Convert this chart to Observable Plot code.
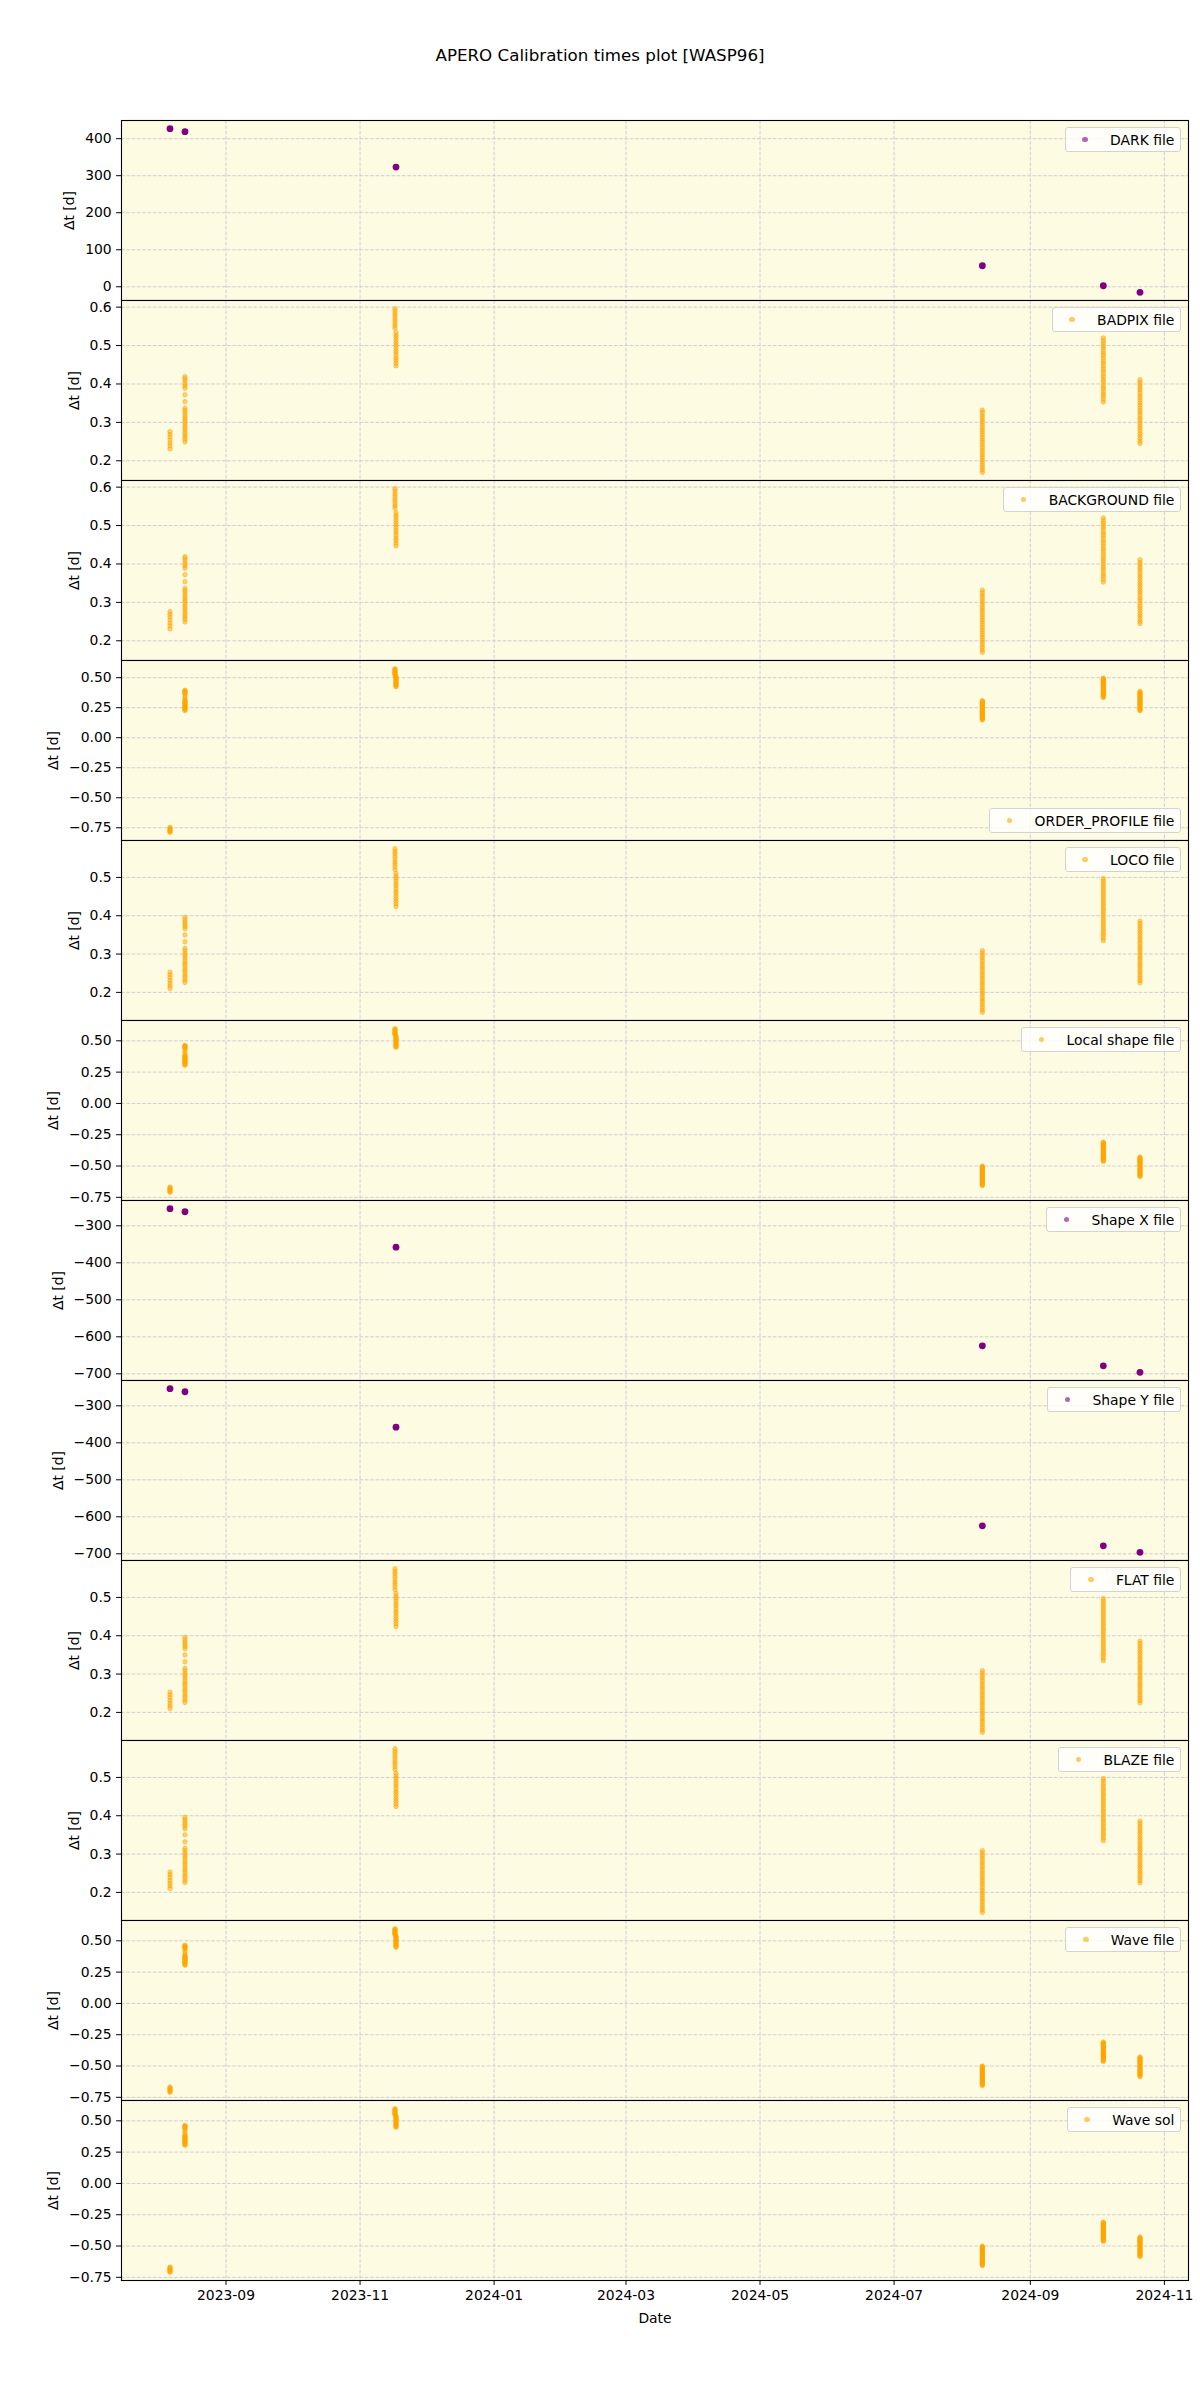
<!DOCTYPE html>
<html>
<head>
<meta charset="utf-8">
<script src="https://cdn.jsdelivr.net/npm/d3@7"></script>
<script src="https://cdn.jsdelivr.net/npm/@observablehq/plot@0.6"></script>
<style>
  body { margin: 0; background: #fff; font-family: "DejaVu Sans", sans-serif; }
  #title { position: relative; width: 1200px; height: 119px; }
  #title span { position: absolute; left: 0; width: 1200px; top: 45px; text-align: center; font-size: 16.7px; line-height: 20px; color: #000; }
  .panel { position: relative; width: 1200px; margin-top: -1px; }
  .panel.first { margin-top: 0; }
  .panel svg { display: block; background: transparent; }
  .legend { position: absolute; right: 19px; background: rgba(255,255,255,0.8); border: 1px solid #d3d3d3; border-radius: 3px;
            display: flex; align-items: center; padding: 3.5px 5.6px; font-size: 13.9px; line-height: 16px; color: #000; white-space: nowrap; }
  .legend .h { width: 27.8px; display: flex; justify-content: center; margin-right: 11.1px; }
  .legend .m { width: 5.6px; height: 5.6px; border-radius: 50%; }
</style>
</head>
<body>
<div id="title"><span>APERO Calibration times plot [WASP96]</span></div>
<div id="panels"></div>
<script>
// ---------------- data ----------------
const nightKeys  = ["A", "B", "C1", "C2", "D", "E", "F"];
const nightDates = ["2023-08-06T12:30Z", "2023-08-13T08:00Z", "2023-11-16T21:30Z", "2023-11-17T08:30Z",
                    "2024-08-10T04:00Z", "2024-10-04T05:00Z", "2024-10-20T21:30Z"];

// one value per night (nights A, B, C2, D, E, F)
const singleNights = ["A", "B", "C2", "D", "E", "F"];
const darkDt   = [427.0, 418.9, 323.4, 56.8, 2.7, -15.0];
const shapeXDt = [-253.7, -262.0, -357.8, -624.3, -678.4, -696.0];
const shapeYDt = [-253.7, -262.0, -357.8, -624.3, -678.4, -696.0];

// many values per night (order of nightKeys)
const badpixDt = [
  [0.276, 0.269, 0.262, 0.254, 0.246, 0.239, 0.231],
  [0.419, 0.414, 0.408, 0.401, 0.395, 0.389, 0.372, 0.354, 0.337, 0.331, 0.325, 0.318, 0.312, 0.306, 0.300, 0.293, 0.287, 0.281, 0.274, 0.268, 0.262, 0.256, 0.249],
  [0.596, 0.590, 0.583, 0.577, 0.570, 0.564, 0.557, 0.551, 0.545],
  [0.534, 0.527, 0.521, 0.514, 0.507, 0.501, 0.494, 0.487, 0.481, 0.474, 0.467, 0.461, 0.454, 0.447],
  [0.332, 0.326, 0.319, 0.313, 0.306, 0.300, 0.293, 0.287, 0.280, 0.274, 0.267, 0.261, 0.254, 0.248, 0.241, 0.235, 0.228, 0.222, 0.215, 0.209, 0.202, 0.196, 0.189, 0.183, 0.176, 0.170],
  [0.520, 0.513, 0.507, 0.500, 0.494, 0.487, 0.480, 0.474, 0.467, 0.460, 0.454, 0.447, 0.440, 0.434, 0.427, 0.420, 0.413, 0.407, 0.400, 0.393, 0.387, 0.380, 0.373, 0.367, 0.360, 0.353],
  [0.411, 0.404, 0.398, 0.391, 0.385, 0.378, 0.371, 0.365, 0.358, 0.351, 0.345, 0.338, 0.331, 0.325, 0.318, 0.311, 0.305, 0.298, 0.291, 0.285, 0.278, 0.271, 0.265, 0.258, 0.251, 0.245]
];
const backgroundDt = badpixDt;

const locoDt = [
  [0.253, 0.246, 0.239, 0.231, 0.224, 0.217, 0.210],
  [0.396, 0.390, 0.384, 0.378, 0.372, 0.366, 0.350, 0.332, 0.315, 0.309, 0.302, 0.296, 0.290, 0.283, 0.277, 0.271, 0.264, 0.258, 0.252, 0.245, 0.239, 0.232, 0.226],
  [0.575, 0.568, 0.562, 0.555, 0.548, 0.541, 0.535, 0.528, 0.521],
  [0.511, 0.504, 0.498, 0.491, 0.484, 0.478, 0.471, 0.464, 0.458, 0.451, 0.444, 0.438, 0.431, 0.424],
  [0.309, 0.303, 0.296, 0.290, 0.283, 0.277, 0.270, 0.264, 0.257, 0.251, 0.244, 0.238, 0.231, 0.225, 0.219, 0.212, 0.206, 0.199, 0.193, 0.186, 0.180, 0.174, 0.167, 0.161, 0.154, 0.148],
  [0.497, 0.491, 0.484, 0.478, 0.471, 0.465, 0.458, 0.452, 0.445, 0.439, 0.432, 0.426, 0.419, 0.413, 0.406, 0.400, 0.393, 0.387, 0.380, 0.374, 0.367, 0.361, 0.354, 0.348, 0.341, 0.335],
  [0.386, 0.380, 0.373, 0.367, 0.360, 0.354, 0.347, 0.341, 0.334, 0.328, 0.321, 0.315, 0.309, 0.302, 0.296, 0.289, 0.283, 0.276, 0.270, 0.264, 0.257, 0.251, 0.244, 0.238, 0.231, 0.225]
];
const flatDt = locoDt;
const blazeDt = locoDt;

const orderProfileA = [-0.747, -0.754, -0.761, -0.768, -0.775, -0.782, -0.788];
const orderProfileDt = [orderProfileA, locoDt[1], locoDt[2], locoDt[3], locoDt[4], locoDt[5], locoDt[6]];

const localShapeDt = [
  [-0.668, -0.675, -0.682, -0.689, -0.696, -0.703, -0.710],
  [0.465, 0.459, 0.453, 0.447, 0.441, 0.435, 0.418, 0.400, 0.383, 0.377, 0.372, 0.366, 0.361, 0.355, 0.350, 0.344, 0.338, 0.333, 0.327, 0.322, 0.316, 0.311, 0.305],
  [0.597, 0.591, 0.585, 0.579, 0.572, 0.566, 0.560, 0.554, 0.548],
  [0.537, 0.530, 0.523, 0.516, 0.510, 0.503, 0.496, 0.489, 0.482, 0.475, 0.469, 0.462, 0.455, 0.448],
  [-0.500, -0.506, -0.512, -0.519, -0.525, -0.531, -0.537, -0.544, -0.550, -0.556, -0.562, -0.569, -0.575, -0.581, -0.587, -0.594, -0.600, -0.606, -0.612, -0.619, -0.625, -0.631, -0.637, -0.644, -0.650, -0.656],
  [-0.308, -0.314, -0.320, -0.327, -0.333, -0.339, -0.345, -0.351, -0.358, -0.364, -0.370, -0.376, -0.382, -0.389, -0.395, -0.401, -0.407, -0.413, -0.420, -0.426, -0.432, -0.438, -0.444, -0.451, -0.457, -0.463],
  [-0.428, -0.434, -0.440, -0.447, -0.453, -0.459, -0.465, -0.472, -0.478, -0.484, -0.490, -0.497, -0.503, -0.509, -0.515, -0.522, -0.528, -0.534, -0.540, -0.547, -0.553, -0.559, -0.565, -0.572, -0.578, -0.584]
];
const waveFileDt = localShapeDt;
const waveSolDt = localShapeDt;

const panelNames  = ["DARK file", "BADPIX file", "BACKGROUND file", "ORDER_PROFILE file", "LOCO file", "Local shape file",
                     "Shape X file", "Shape Y file", "FLAT file", "BLAZE file", "Wave file", "Wave sol"];
const panelSeries = [darkDt, badpixDt, backgroundDt, orderProfileDt, locoDt, localShapeDt,
                     shapeXDt, shapeYDt, flatDt, blazeDt, waveFileDt, waveSolDt];
const panelColor  = ["purple", "orange", "orange", "orange", "orange", "orange",
                     "purple", "purple", "orange", "orange", "orange", "orange"];
const panelLegendLoc = ["upper", "upper", "upper", "lower", "upper", "upper", "upper", "upper", "upper", "upper", "upper", "upper"];

const ticks100  = [0, 100, 200, 300, 400];
const ticksTenth6 = [0.2, 0.3, 0.4, 0.5, 0.6];
const ticksTenth5 = [0.2, 0.3, 0.4, 0.5];
const ticksQuarter = [-0.75, -0.5, -0.25, 0, 0.25, 0.5];
const ticksShape = [-700, -600, -500, -400, -300];
const panelTicks  = [ticks100, ticksTenth6, ticksTenth6, ticksQuarter, ticksTenth5, ticksQuarter,
                     ticksShape, ticksShape, ticksTenth5, ticksTenth5, ticksQuarter, ticksQuarter];
const panelTickFmt = ["d", ".1f", ".1f", ".2f", ".1f", ".2f", "d", "d", ".1f", ".1f", ".2f", ".2f"];

const xTickLabels = ["2023-09", "2023-11", "2024-01", "2024-03", "2024-05", "2024-07", "2024-09", "2024-11"];

// ---------------- drawing ----------------
const FONT = "'DejaVu Sans', sans-serif";
const BG = "#fdfbe1";
const GRID = "#cbcbd3";
const DASH = "3.7,1.6";
const xTicks = xTickLabels.map(s => new Date(s + "-01T00:00:00Z"));
const dateOf = k => new Date(nightDates[nightKeys.indexOf(k)]);

const allDates = nightDates.map(d => new Date(d));
const [xmin, xmax] = d3.extent(allDates);
const xpad = 0.05 * (xmax - xmin);
const xDomain = [new Date(+xmin - xpad), new Date(+xmax + xpad)];

const canvas = document.createElement("canvas");
const ctx = canvas.getContext("2d");
ctx.font = "13.9px 'DejaVu Sans'";

const container = document.getElementById("panels");

panelNames.forEach((name, i) => {
  const series = panelSeries[i];
  let rows = [];
  if (panelColor[i] === "purple") {
    rows = series.map((v, j) => ({date: dateOf(singleNights[j]), dt: v}));
  } else {
    series.forEach((vals, j) => vals.forEach(v => rows.push({date: new Date(nightDates[j]), dt: v})));
  }
  const [ymin, ymax] = d3.extent(rows, d => d.dt);
  const ypad = 0.05 * (ymax - ymin);
  const yDomain = [ymin - ypad, ymax + ypad];
  const fmt = d3.format(panelTickFmt[i]);
  const tw = d3.max(panelTicks[i], t => ctx.measureText(fmt(t)).width);
  const labelOffset = 4.9 + 4.9 + tw + 5.6 + 15;
  const isLast = i === panelNames.length - 1;
  const purple = panelColor[i] === "purple";

  const marks = [
    Plot.frame({fill: BG, stroke: null}),
    Plot.gridX(xTicks, {stroke: GRID, strokeOpacity: 1, strokeWidth: 0.9, strokeDasharray: DASH}),
    Plot.gridY(panelTicks[i], {stroke: GRID, strokeOpacity: 1, strokeWidth: 0.9, strokeDasharray: DASH}),
    purple
      ? Plot.dot(rows, {x: "date", y: "dt", r: 3.4, fill: "purple", fillOpacity: 1, stroke: null})
      : Plot.dot(rows, {x: "date", y: "dt", r: 2.2, fill: "orange", fillOpacity: 0.5, stroke: "orange", strokeOpacity: 0.5, strokeWidth: 1}),
    Plot.axisY(panelTicks[i], {tickFormat: fmt, tickSize: 4.9, tickPadding: 4.9, fontSize: 13.9,
      label: "Δt [d]", labelAnchor: "center", labelArrow: "none", labelOffset}),
    Plot.frame({stroke: "black", strokeWidth: 1.1})
  ];
  if (isLast) {
    marks.push(Plot.axisX(xTicks, {tickFormat: d3.utcFormat("%Y-%m"), tickSize: 4.9, tickPadding: 4.9, fontSize: 13.9,
      label: "Date", labelAnchor: "center", labelArrow: "none", labelOffset: 42}));
  }

  const chart = Plot.plot({
    width: 1200,
    height: isLast ? 241 : 181,
    marginLeft: 121, marginRight: 12, marginTop: 1, marginBottom: isLast ? 60 : 0,
    style: {fontFamily: FONT, fontSize: "13.9px", background: "transparent", color: "black", overflow: "visible"},
    x: {type: "utc", domain: xDomain, axis: isLast ? undefined : null},
    y: {domain: yDomain},
    marks
  });

  const wrap = document.createElement("div");
  wrap.className = "panel" + (i === 0 ? " first" : "");
  wrap.appendChild(chart);

  const leg = document.createElement("div");
  leg.className = "legend";
  if (panelLegendLoc[i] === "upper") leg.style.top = (1 + 7) + "px";
  else leg.style.top = (1 + 180 - 7 - 25) + "px";
  const h = document.createElement("span"); h.className = "h";
  const m = document.createElement("span"); m.className = "m";
  m.style.background = purple ? "rgba(128,0,128,0.6)" : "rgba(255,165,0,0.6)";
  h.appendChild(m);
  const t = document.createElement("span"); t.textContent = name;
  leg.appendChild(h); leg.appendChild(t);
  wrap.appendChild(leg);

  container.appendChild(wrap);
});
</script>
</body>
</html>
